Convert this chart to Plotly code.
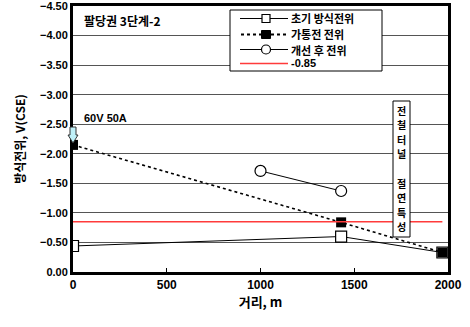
import plotly.graph_objects as go

x_init = [0, 1430, 1970]
y_init = [-0.44, -0.60, -0.33]
x_on = [0, 1430, 1970]
y_on = [-2.15, -0.84, -0.33]
x_after = [1000, 1430]
y_after = [-1.71, -1.37]
x_ref = [0, 1970]
y_ref = [-0.85, -0.85]
series_names = ["초기 방식전위", "가통전 전위", "개선 후 전위", "-0.85"]
box_chars = ["전", "철", "터", "널", "", "절", "연", "특", "성"]

font_kr = "Noto Sans CJK KR, Arial"
L, R, T, B = 73, 448, 6, 272


def px(x):
    return (x - L) / (R - L)


def py(y):
    return (B - y) / (B - T)


fig = go.Figure()
fig.add_trace(go.Scatter(x=x_init, y=y_init, name=series_names[0], mode="lines+markers",
                         line=dict(color="black", width=1),
                         marker=dict(symbol="square", size=11, color="white", line=dict(color="black", width=1.2))))
fig.add_trace(go.Scatter(x=x_on, y=y_on, name=series_names[1], mode="lines+markers",
                         line=dict(color="black", width=1.6, dash="dot"),
                         marker=dict(symbol="square", size=10, color="black")))
fig.add_trace(go.Scatter(x=x_after, y=y_after, name=series_names[2], mode="lines+markers",
                         line=dict(color="black", width=1),
                         marker=dict(symbol="circle", size=11, color="white", line=dict(color="black", width=1.2))))
fig.add_trace(go.Scatter(x=x_ref, y=y_ref, name=series_names[3], mode="lines",
                         line=dict(color="#ff3b3b", width=1.5)))

fig.update_layout(
    width=470, height=327,
    margin=dict(l=L, r=470 - R, t=T, b=327 - B),
    paper_bgcolor="white", plot_bgcolor="white",
    font=dict(family=font_kr, color="black"),
    showlegend=False,
    xaxis=dict(range=[0, 2000], tickvals=[0, 500, 1000, 1500, 2000],
               showgrid=False, zeroline=False, ticks="inside", ticklen=4, tickcolor="black",
               showline=True, linecolor="black", linewidth=3, mirror=True, automargin=False,
               ticklabeloverflow="allow",
               tickfont=dict(family="Arial", size=12, weight="bold"),
               title=dict(text="거리, m", font=dict(family=font_kr, size=13, weight="bold"), standoff=6)),
    yaxis=dict(range=[0, -4.5], tickvals=[0, -0.5, -1, -1.5, -2, -2.5, -3, -3.5, -4, -4.5],
               tickformat=".2f", showgrid=True, gridcolor="#555", gridwidth=1, zeroline=False,
               ticks="", showline=True, linecolor="black", linewidth=3, mirror=True, automargin=False,
               ticklabeloverflow="allow",
               tickfont=dict(family="Arial", size=11, weight="bold"),
               title=dict(text="방식전위, V(CSE)", font=dict(family=font_kr, size=12, weight="bold"), standoff=12)),
)

# custom legend
fig.add_shape(type="rect", xref="paper", yref="paper", x0=px(230), x1=px(382), y0=py(71), y1=py(10),
              fillcolor="white", line=dict(color="black", width=1), layer="above")
rows = [18.5, 34.5, 49.5, 63.5]
for i, ry in enumerate(rows):
    if i == 1:
        fig.add_shape(type="line", xref="paper", yref="paper", x0=px(241), x1=px(288), y0=py(ry), y1=py(ry),
                      line=dict(color="black", width=2.2, dash="dot"), layer="above")
    elif i == 3:
        fig.add_shape(type="line", xref="paper", yref="paper", x0=px(240), x1=px(288), y0=py(ry), y1=py(ry),
                      line=dict(color="#ff3b3b", width=1.5), layer="above")
    else:
        fig.add_shape(type="line", xref="paper", yref="paper", x0=px(240), x1=px(288), y0=py(ry), y1=py(ry),
                      line=dict(color="black", width=1), layer="above")
    if i == 0:
        fig.add_shape(type="rect", xref="paper", yref="paper", x0=px(262), x1=px(270), y0=py(ry + 4), y1=py(ry - 4),
                      fillcolor="white", line=dict(color="black", width=1.2), layer="above")
    elif i == 1:
        fig.add_shape(type="rect", xref="paper", yref="paper", x0=px(261.5), x1=px(270.5), y0=py(ry + 4), y1=py(ry - 4),
                      fillcolor="black", line=dict(color="black", width=1), layer="above")
    elif i == 2:
        fig.add_shape(type="circle", xref="paper", yref="paper", x0=px(261.5), x1=px(270.5), y0=py(ry + 4.5), y1=py(ry - 4.5),
                      fillcolor="white", line=dict(color="black", width=1.2), layer="above")
    fig.add_annotation(x=px(290), y=py(ry), xref="paper", yref="paper", xanchor="left", yanchor="middle",
                       text=series_names[i], showarrow=False, borderpad=0,
                       font=dict(family=font_kr if i < 3 else "Arial", size=11, weight="bold"))

fig.add_annotation(x=px(82), y=py(21), xref="paper", yref="paper", xanchor="left", yanchor="middle",
                   text="팔당권 3단계-2", showarrow=False,
                   font=dict(family=font_kr, size=12, weight="bold"))
fig.add_annotation(x=px(82), y=py(118), xref="paper", yref="paper", xanchor="left", yanchor="middle",
                   text="60V 50A", showarrow=False,
                   font=dict(family="Arial", size=11, weight="bold"))

# vertical text box
fig.add_shape(type="rect", xref="paper", yref="paper",
              x0=px(393), x1=px(410), y0=py(237), y1=py(101),
              fillcolor="white", line=dict(color="black", width=1), layer="above")
for i, ch in enumerate(box_chars):
    if not ch:
        continue
    cy = 110 + i * 14.6
    fig.add_annotation(x=px(401.5), y=py(cy), xref="paper", yref="paper",
                       xanchor="center", yanchor="middle", text=ch, showarrow=False,
                       font=dict(family=font_kr, size=10, weight="bold"))

# light blue block arrow at x=0 (paper-referenced so it is not clipped)
fig.add_shape(type="path", xref="paper", yref="paper", xsizemode="pixel", ysizemode="pixel",
              xanchor=0, yanchor=py(143),
              path="M -3,16 L 3,16 L 3,8 L 5,8 L 0,0 L -5,8 L -3,8 Z",
              fillcolor="#bff0f8", line=dict(color="#333", width=1), layer="above")

fig.write_html("out.html", config={"displayModeBar": False},
               post_script="document.body.style.margin='0px';")
